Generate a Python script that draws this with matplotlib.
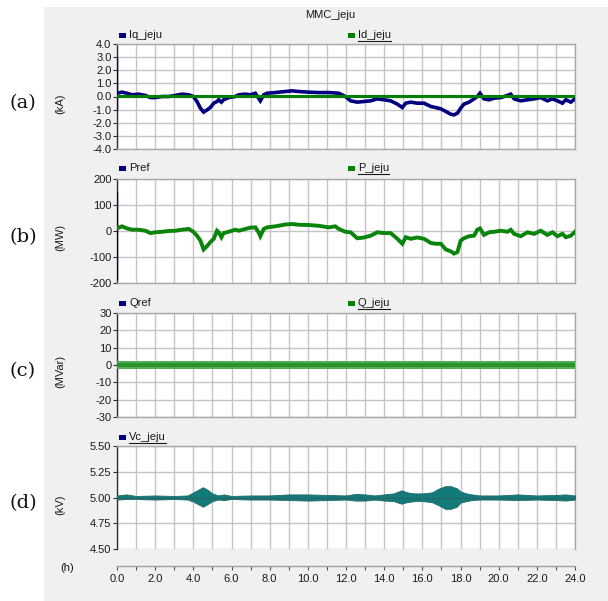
import matplotlib
matplotlib.use('Agg')
import matplotlib.pyplot as plt
from matplotlib.patches import Rectangle
from matplotlib.lines import Line2D
from matplotlib.ticker import MultipleLocator

W, H = 608, 601
plt.rcParams['font.family'] = ['Liberation Sans', 'DejaVu Sans']

# ---------------- data ----------------
title = 'MMC_jeju'
hours_major = [0, 2, 4, 6, 8, 10, 12, 14, 16, 18, 20, 22, 24]
hour_labels = ['0.0', '2.0', '4.0', '6.0', '8.0', '10.0', '12.0', '14.0', '16.0',
               '18.0', '20.0', '22.0', '24.0']

# (a) currents, kA
t_iq = [0.0, 0.26, 0.52, 0.79, 1.14, 1.49, 1.75, 2.01, 2.36, 2.71, 3.06, 3.41, 3.76, 4.00,
        4.19, 4.37, 4.54, 4.72, 4.89, 5.07, 5.24, 5.33, 5.47, 5.59, 5.85, 6.20, 6.38, 6.73,
        6.99, 7.25, 7.42, 7.51, 7.69, 7.86, 8.30, 8.82, 9.17, 9.52, 10.05, 10.57, 11.09,
        11.62, 11.97, 12.24, 12.59, 12.94, 13.29, 13.64, 13.99, 14.34, 14.69, 14.95, 15.13,
        15.39, 15.74, 16.09, 16.44, 16.70, 16.97, 17.23, 17.49, 17.66, 17.84, 18.01, 18.18,
        18.45, 18.71, 18.88, 19.02, 19.23, 19.50, 19.76, 20.11, 20.46, 20.63, 20.81, 21.16,
        21.51, 21.86, 22.20, 22.55, 22.82, 23.08, 23.34, 23.52, 23.78, 24.0]
iq = [0.25, 0.33, 0.25, 0.13, 0.18, 0.08, -0.08, -0.08, 0.0, 0.0, 0.08, 0.18, 0.13, 0.0,
      -0.38, -0.89, -1.19, -1.02, -0.84, -0.51, -0.38, -0.25, -0.43, -0.25, -0.08, 0.0, 0.13,
      0.18, 0.13, 0.25, -0.13, -0.33, 0.13, 0.25, 0.30, 0.38, 0.43, 0.38, 0.33, 0.30, 0.30,
      0.25, 0.0, -0.33, -0.43, -0.38, -0.33, -0.18, -0.25, -0.33, -0.58, -0.84, -0.51,
      -0.43, -0.51, -0.51, -0.76, -0.84, -0.94, -1.14, -1.35, -1.40, -1.27, -0.89, -0.58,
      -0.43, -0.18, 0.0, 0.25, -0.18, -0.25, -0.13, -0.08, 0.08, 0.18, -0.18, -0.33,
      -0.25, -0.18, -0.08, -0.33, -0.18, -0.33, -0.51, -0.25, -0.43, -0.18]
iq_start_t = [0.0, 0.0]
iq_start = [3.0, -1.0]
t_id = [0.0, 24.0]
id_v = [0.02, 0.02]

# (b) active power, MW
t_p = [0.0, 0.26, 0.52, 0.79, 1.14, 1.49, 1.75, 2.01, 2.36, 2.71, 3.06, 3.41, 3.76, 4.00,
       4.19, 4.37, 4.54, 4.72, 4.89, 5.07, 5.24, 5.33, 5.47, 5.59, 5.85, 6.20, 6.38, 6.73,
       6.99, 7.25, 7.42, 7.51, 7.69, 7.86, 8.30, 8.82, 9.17, 9.52, 10.05, 10.57, 11.09,
       11.44, 11.62, 11.97, 12.24, 12.59, 12.94, 13.29, 13.64, 13.99, 14.34, 14.69, 14.95,
       15.13, 15.39, 15.74, 16.09, 16.44, 16.70, 16.97, 17.23, 17.49, 17.66, 17.84, 18.01,
       18.18, 18.45, 18.71, 18.88, 19.02, 19.23, 19.50, 19.76, 20.11, 20.46, 20.63, 20.81,
       21.16, 21.51, 21.86, 22.20, 22.55, 22.82, 23.08, 23.34, 23.52, 23.78, 24.0]
p = [10, 18, 10, 5, 5, 1, -8, -5, -3, 0, 1, 5, 8, -3, -18, -37, -71, -58, -43, -30, 1, -5,
     -24, -8, -3, 5, 1, 8, 13, 14, -5, -20, 8, 14, 18, 25, 27, 24, 23, 20, 14, 18, 8, -3,
     -5, -28, -25, -18, -5, -8, -8, -30, -49, -24, -30, -25, -30, -46, -49, -49, -71, -78,
     -87, -81, -37, -28, -20, -18, 5, 10, -15, -5, -3, 1, -3, 5, -11, -20, -5, -11, 1, -15,
     -5, -20, -11, -24, -18, -3]
pref_start_t = [0.0, 0.0]
pref_start = [150, -185]

# (c) reactive power band, MVar
t_q = [0.0, 24.0]
q_outer_hi = [2.4, 2.4]
q_outer_lo = [-2.4, -2.4]
q_inner_hi = [0.9, 0.9]
q_inner_lo = [-0.9, -0.9]

# (d) DC voltage envelope, kV
t_vc = [0, 0.5, 1, 2, 3, 3.7, 4.0, 4.3, 4.5, 4.7, 5.0, 5.3, 5.6, 6, 7, 8, 9, 10, 11, 12,
        12.5, 13, 13.5, 14, 14.5, 14.9, 15.2, 15.6, 16, 16.5, 16.9, 17.2, 17.5, 17.8, 18.0,
        18.3, 18.6, 19, 20, 21, 22, 23, 23.5, 24]
vc_hi = [5.02, 5.03, 5.015, 5.02, 5.015, 5.02, 5.05, 5.08, 5.10, 5.08, 5.04, 5.02, 5.03,
         5.015, 5.02, 5.02, 5.03, 5.03, 5.025, 5.02, 5.035, 5.03, 5.02, 5.03, 5.04, 5.07,
         5.05, 5.04, 5.04, 5.05, 5.09, 5.11, 5.11, 5.09, 5.06, 5.04, 5.03, 5.02, 5.02, 5.03,
         5.02, 5.025, 5.03, 5.02]
vc_lo = [4.98, 4.985, 4.985, 4.98, 4.985, 4.98, 4.96, 4.93, 4.91, 4.93, 4.965, 4.98, 4.975,
         4.985, 4.98, 4.98, 4.975, 4.97, 4.975, 4.98, 4.97, 4.97, 4.98, 4.97, 4.965, 4.94,
         4.955, 4.965, 4.965, 4.955, 4.92, 4.89, 4.89, 4.91, 4.95, 4.965, 4.975, 4.98, 4.98,
         4.975, 4.98, 4.975, 4.97, 4.98]
vc_mid = [5.0, 5.0]
t_vc_mid = [0.0, 24.0]

# ---------------- figure ----------------
fig = plt.figure(figsize=(W / 100, H / 100), dpi=100)
fig.patches.append(Rectangle((44 / W, 0), 1 - 44 / W, 1 - 7 / H, transform=fig.transFigure,
                             facecolor='#f0f0f0', edgecolor='none', zorder=-10))

FS = 8
GRID = '#c4c4c4'


def make_ax(top, bottom, yticks, ylabels, ylim):
    ax = fig.add_axes([117 / W, 1 - bottom / H, 458 / W, (bottom - top) / H])
    ax.set_facecolor('white')
    ax.set_xlim(0, 24)
    ax.set_ylim(*ylim)
    ax.set_yticks(yticks)
    ax.set_yticklabels(ylabels)
    ax.xaxis.set_major_locator(MultipleLocator(1))
    ax.grid(True, which='major', color=GRID, lw=1.0)
    ax.set_axisbelow(True)
    ax.tick_params(axis='x', length=0, labelbottom=False)
    ax.tick_params(axis='y', length=3, width=0.8, pad=1, labelsize=FS, colors='#303030',
                   labelcolor='#1a1a1a')
    for s in ['top', 'right', 'bottom']:
        ax.spines[s].set_color('#a8a8a8')
        ax.spines[s].set_linewidth(1.0)
    ax.spines['left'].set_color('#303030')
    ax.spines['left'].set_linewidth(1.0)
    return ax


# (a)
axa = make_ax(44, 149, [4, 3, 2, 1, 0, -1, -2, -3, -4],
              ['4.0', '3.0', '2.0', '1.0', '0.0', '-1.0', '-2.0', '-3.0', '-4.0'], (-4, 4))
axa.plot(t_iq, iq, color='#000080', lw=2.6, solid_joinstyle='miter', zorder=3)
axa.plot(iq_start_t, iq_start, color='#000080', lw=1.0, zorder=3)
axa.plot(t_id, id_v, color='#008000', lw=2.2, zorder=4)

# (b)
axb = make_ax(179, 283, [200, 100, 0, -100, -200], ['200', '100', '0', '-100', '-200'],
              (-200, 200))
axb.plot(pref_start_t, pref_start, color='#000080', lw=1.0, zorder=3)
axb.plot(t_p, p, color='#0a840a', lw=2.8, solid_joinstyle='miter', zorder=4)

# (c)
axc = make_ax(313, 417, [30, 20, 10, 0, -10, -20, -30],
              ['30', '20', '10', '0', '-10', '-20', '-30'], (-30, 30))
axc.fill_between(t_q, q_outer_lo, q_outer_hi, color='#52ac52', lw=0, zorder=3)
axc.fill_between(t_q, q_inner_lo, q_inner_hi, color='#2c932c', lw=0, zorder=4)

# (d)
axd = make_ax(446, 549, [5.5, 5.25, 5.0, 4.75, 4.5], ['5.50', '5.25', '5.00', '4.75', '4.50'],
              (4.5, 5.5))
axd.fill_between(t_vc, vc_lo, vc_hi, color='#137a7a', lw=0.6, edgecolor='#1f6a6a', zorder=3)
axd.plot(t_vc_mid, vc_mid, color='#2a6464', lw=0.8, zorder=4)
axd.xaxis.set_major_locator(MultipleLocator(2))
axd.xaxis.set_minor_locator(MultipleLocator(1))
axd.set_xticks(hours_major)
axd.set_xticklabels(hour_labels)
axd.grid(True, which='both', axis='x', color=GRID, lw=1.0)
axd.spines['bottom'].set_position(('outward', 12))
axd.spines['bottom'].set_color('#a0a0a0')
axd.tick_params(axis='x', which='both', length=3, width=0.8, colors='#505050',
                labelbottom=True, labelsize=FS, labelcolor='#1a1a1a', pad=3)

# texts
fig.text(305 / W, 1 - 15.5 / H, title, ha='left', va='center', fontsize=FS, color='#1a1a1a')
fig.text(67 / W, 1 - 568 / H, '(h)', ha='center', va='center', fontsize=FS, color='#1a1a1a')

units = [('(kA)', 104), ('(MW)', 237), ('(MVar)', 371), ('(kV)', 505)]
for u, yc in units:
    fig.text(60 / W, 1 - yc / H, u, rotation=90, ha='center', va='center', fontsize=FS,
             color='#1a1a1a')

letters = [('(a)', 103), ('(b)', 237), ('(c)', 371), ('(d)', 503)]
for l, yc in letters:
    fig.text(23 / W, 1 - yc / H, l, ha='center', va='center', fontsize=14,
             family='DejaVu Serif', color='#111111')

legends = [
    (35, [(119, 'Iq_jeju', '#000080', False), (348, 'Id_jeju', '#008000', True)]),
    (168, [(119, 'Pref', '#000080', False), (348, 'P_jeju', '#008000', True)]),
    (303, [(119, 'Qref', '#000080', False), (348, 'Q_jeju', '#008000', True)]),
    (437, [(119, 'Vc_jeju', '#000080', True)]),
]
under = []
for yc, items in legends:
    for x0, lab, col, ul in items:
        fig.patches.append(Rectangle((x0 / W, 1 - (yc + 2.5) / H), 7 / W, 5 / H,
                                     transform=fig.transFigure, facecolor=col,
                                     edgecolor='none'))
        tx = fig.text((x0 + 10) / W, 1 - yc / H, lab, ha='left', va='center', fontsize=FS,
                      color='#1a1a1a')
        if ul:
            under.append((tx, yc))

fig.canvas.draw()
r = fig.canvas.get_renderer()
for tx, yc in under:
    bb = tx.get_window_extent(r)
    yy = 1 - (yc + 6) / H
    fig.add_artist(Line2D([bb.x0 / W, bb.x1 / W], [yy, yy], transform=fig.transFigure,
                          color='#1a1a1a', lw=0.8))

fig.savefig('out.png', dpi=100, facecolor='white')
